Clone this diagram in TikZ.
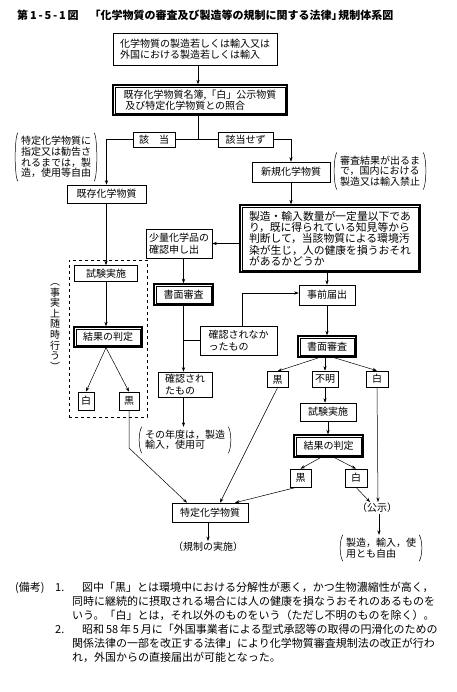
\documentclass[tikz,border=0pt]{standalone}
\usepackage{fontspec}
\setmainfont{Noto Sans CJK JP}
\usetikzlibrary{arrows.meta,calc}
\begin{document}
\begin{tikzpicture}[x=1pt,y=-1pt,
  box/.style={draw, line width=0.6pt, inner sep=2pt, font=\fontsize{10}{11.5}\selectfont, align=left},
  dbox/.style={box, line width=1.3pt},
  inner/.style={line width=0.4pt},
  arr/.style={-{Stealth[length=4.5pt,width=3.2pt]}, line width=0.5pt},
  ln/.style={line width=0.5pt},
  note/.style={inner sep=3pt, font=\fontsize{10}{11}\selectfont, align=left},
  plain/.style={inner sep=1pt, font=\fontsize{10}{11}\selectfont},
  fn/.style={inner sep=0pt, anchor=west, font=\fontsize{11}{13}\selectfont},
  paren/.style={line width=0.5pt}
]
\useasboundingbox (0,0) rectangle (456,692);

% title
\node[anchor=west, inner sep=0pt, font=\bfseries\fontsize{11}{13}\selectfont] (title) at (17,15)
  {第\,1\,-\,5\,-\,1\,図\hspace{1em}「化学物質の審査及び製造等の規制に関する法律」\hspace{-0.4em}規制体系図};

% main column
\node[box, minimum width=164, minimum height=32] (b1) at (195,49)
  {化学物質の製造若しくは輸入又は\\外国における製造若しくは輸入};
\node[dbox, minimum width=174, minimum height=30] (b2) at (200,100)
  {既存化学物質名簿,「白」公示物質\\\,及び特定化学物質との照合};
\coordinate (j) at (198,139.5);
\node[box, minimum width=42, minimum height=15, inner sep=1pt] (ga) at (154,139.5) {該\hspace{1em}当};
\node[box, minimum width=55, minimum height=15, inner sep=1pt] (gs) at (245.5,139.5) {該当せず};

% left branch
\node[note, font=\fontsize{10}{10.8}\selectfont] (n0) at (56,157)
  {特定化学物質に\\指定又は勧告さ\\れるまでは，製\\造，使用等自由};
\node[box, minimum width=79, minimum height=18] (kz) at (106.5,194) {既存化学物質};
\node[draw, dashed, line width=0.5pt, minimum width=78, minimum height=157, inner sep=0pt] (grp) at (108,338.5) {};
\node[box, minimum width=63, minimum height=16, inner sep=1pt] (tL) at (106,273.5) {試験実施};
\node[dbox, minimum width=68, minimum height=20] (kL) at (108,337) {結果の判定};
\node[box, minimum width=16, minimum height=18, inner sep=1pt] (wL) at (86,401) {白};
\node[box, minimum width=20, minimum height=18, inner sep=1pt] (bL) at (129,401) {黒};
\node[inner sep=0pt, align=center, font=\fontsize{10}{10.6}\selectfont] (vt) at (55,327)
  {︵\\事\\実\\上\\随\\時\\行\\う\\︶};

% right branch
\node[box, minimum width=78, minimum height=20] (sk) at (291,172) {新規化学物質};
\node[note, font=\fontsize{10}{10.8}\selectfont] (nR) at (380,171)
  {審査結果が出るま\\で，国内における\\製造又は輸入禁止};
\node[dbox, minimum width=180, minimum height=67, font=\fontsize{10.8}{11.3}\selectfont] (big) at (330,238.5)
  {製造・輸入数量が一定量以下であ\\り，既に得られている知見等から\\判断して，当該物質による環境汚\\染が生じ，人の健康を損うおそれ\\があるかどうか};

% small quantity column
\node[box, minimum width=66, minimum height=29] (sr) at (179,243.5) {少量化学品の\\確認申し出};
\node[dbox, minimum width=59, minimum height=21] (shL) at (183.5,294.5) {書面審査};
\node[box, minimum width=77, minimum height=29] (kh) at (238.5,340.5) {確認されなか\\ったもの};
\node[box, minimum width=54, minimum height=25] (kn) at (185,384.5) {確認され\\たもの};
\node[note, font=\fontsize{10}{10.5}\selectfont] (n1) at (185,440) {その年度は，製造\\輸入，使用可};

% notification column
\node[box, minimum width=56, minimum height=20] (jz) at (327,295) {事前届出};
\node[dbox, minimum width=58, minimum height=21] (shR) at (327,346.5) {書面審査};
\node[box, minimum width=21, minimum height=16, inner sep=1pt] (k1) at (277.5,379.5) {黒};
\node[box, minimum width=26, minimum height=16, inner sep=1pt] (fm) at (325,379) {不明};
\node[box, minimum width=22, minimum height=16, inner sep=1pt] (w1) at (377,379) {白};
\node[box, minimum width=56, minimum height=18, inner sep=1pt] (tR) at (328,412) {試験実施};
\node[dbox, minimum width=69, minimum height=22] (kR) at (328.5,446) {結果の判定};
\node[box, minimum width=21, minimum height=18, inner sep=1pt] (k2) at (300.5,478) {黒};
\node[box, minimum width=22, minimum height=18, inner sep=1pt] (w2) at (356,478) {白};

% inner lines of the double-framed boxes
\foreach \n in {b2,kL,big,shL,shR,kR}{
  \draw[inner] ($(\n.north west)+(2.8,2.8)$) rectangle ($(\n.south east)+(-2.8,-2.8)$);
}

% bottom
\node[box, minimum width=76, minimum height=19] (tk) at (210,512.5) {特定化学物質};
\node[plain] (kj) at (208,547) {（規制の実施）};
\node[plain] (ks) at (377,508) {（公示）};
\node[note, font=\fontsize{10}{10.5}\selectfont] (n2) at (381,548) {製造，輸入，使\\用とも自由};

% parentheses of notes
\foreach \n in {n0,nR,n1,n2}{
  \draw[paren] (\n.north west) .. controls +(-3.5,5) and +(-3.5,-5) .. (\n.south west);
  \draw[paren] (\n.north east) .. controls +(3.5,5) and +(3.5,-5) .. (\n.south east);
}

% connectors
\draw[arr] (b1.south -| j) -- (b2.north -| j);
\draw[ln] (b2.south -| j) -- (j);
\draw[ln] (ga.east) -- (gs.west);
\draw[arr] (ga.west) -| (kz.north);
\draw[arr] (gs.east) -| (sk.north);
\draw[arr] (sk.south) -- (big.north -| sk.south);
\draw[arr] (big.west |- sr.east) -- (sr.east);
\draw[arr] (shL.north |- sr.south) -- (shL.north);
\draw[arr] (shL.south) -- (kn.north -| shL.south);
\draw[ln] (shL.south |- kh.west) -- (kh.west);
\coordinate (khup) at ($(kh.north)+(3.5,0)$);
\draw[arr] (khup) |- ($(jz.west)+(0,-2)$);
\draw[arr] (big.south -| jz.north) -- (jz.north);
\draw[arr] (jz.south) -- (shR.north);
\draw[arr] ($(shR.south)+(-8,0)$) -- (k1.north);
\draw[arr] (shR.south -| fm.north) -- (fm.north);
\draw[arr] ($(shR.south)+(7,0)$) -- (w1.north);
\draw[arr] (fm.south) -- (tR.north -| fm.south);
\draw[arr] (tR.south) -- (kR.north -| tR.south);
\draw[arr] ($(kR.south)+(-8,0)$) -- (k2.north);
\draw[arr] ($(kR.south)+(6,0)$) -- (w2.north);
\draw[arr] (kn.south -| shL.south) -- (n1.north -| shL.south);

\draw[arr] (kz.south -| tL.north) -- (tL.north);
\draw[arr] (tL.south) -- (kL.north -| tL.south);
\draw[arr] ($(kL.south)+(-2,0)$) -- (wL.north);
\draw[arr] ($(kL.south)+(-2,0)$) -- (bL.north);

\coordinate (bLb) at (129,448);
\draw[arr] (bL.south) -- (bLb) -- ($(tk.north)+(-23,0)$);
\draw[arr] (k1.south) -- ($(tk.north)+(10,0)$);
\draw[arr] ($(k2.south)+(-4,0)$) -- ($(tk.north)+(25,0)$);
\draw[arr] (tk.south -| kj.north) -- (kj.north);

\draw[arr] (w1.south) -- ($(ks.north)+(1,0)$);
\draw[arr] (w2.south) -- ($(ks.north)+(-7,0)$);
\draw[arr] ($(ks.south)+(2,0)$) -- ($(n2.north)+(-2,0)$);

% footnote
\node[fn] (f0) at (15,587.5) {(備考)};
\node[fn] (f1n) at (55,587.5) {1.};
\node[fn] (f1) at (82,587.5) {図中「黒」とは環境中における分解性が悪く，かつ生物濃縮性が高く，};
\node[fn] (f2) at (72,601.5) {同時に継続的に摂取される場合には人の健康を損なうおそれのあるものを};
\node[fn] (f3) at (72,615.5) {いう。「白」とは，それ以外のものをいう（ただし不明のものを除く）。};
\node[fn] (f4n) at (55,629.5) {2.};
\node[fn] (f4) at (82,629.5) {昭和\,58\,年\,5\,月に「外国事業者による型式承認等の取得の円滑化のための};
\node[fn] (f5) at (72,643.5) {関係法律の一部を改正する法律」により化学物質審査規制法の改正が行わ};
\node[fn] (f6) at (72,657.5) {れ，外国からの直接届出が可能となった。};
\end{tikzpicture}
\end{document}
